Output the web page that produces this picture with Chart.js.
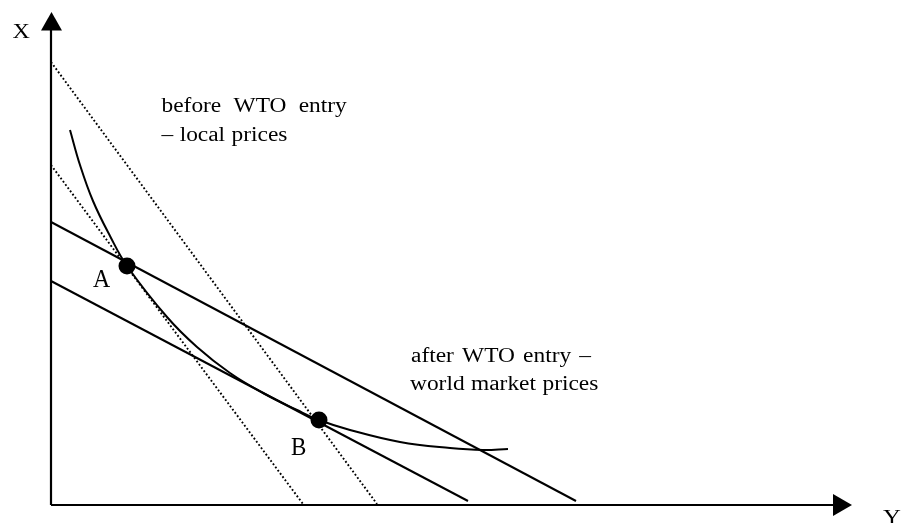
<!DOCTYPE html>
<html><head><meta charset="utf-8">
<script src="https://cdn.jsdelivr.net/npm/chart.js@4/dist/chart.umd.min.js"></script>
<style>html,body{margin:0;padding:0;background:#fff;overflow:hidden}</style>
</head><body>
<canvas id="c" width="901" height="523"></canvas>
<script>
// Indifference curve (Y on horizontal axis, X on vertical axis)
const curveX = [19, 29, 42, 59, 76, 116, 146, 179, 212, 246, 268, 299, 349, 399, 432, 457];
const curveY = [375, 340, 304, 269, 239, 188, 158, 132, 112, 95, 85, 75, 63, 57, 55, 56];
// Budget lines before WTO entry (local prices, dotted)
const localHighX = [0, 326], localHighY = [443, 1];
const localLowX = [0, 252], localLowY = [340, 1];
// Budget lines after WTO entry (world market prices, solid)
const worldHighX = [0, 525], worldHighY = [283, 4];
const worldLowX = [0, 417], worldLowY = [224, 4];
// Equilibrium points
const pointNames = ['A', 'B'];
const pointX = [76, 268], pointY = [239, 85];
// Axis names and notes
const axisNames = {vertical: 'X', horizontal: 'Y'};
const noteBefore = ['before WTO entry', '\u2013 local prices'];
const noteAfter = ['after WTO entry \u2013', 'world market prices'];

const toPts = (xs, ys) => xs.map((x, i) => ({x: x, y: ys[i]}));

const lineDs = (xs, ys, dashed) => ({
  data: toPts(xs, ys), showLine: true, borderColor: '#000',
  borderWidth: dashed ? 1.9 : 2, borderDash: dashed ? [1.8, 2.2] : [],
  pointRadius: 0, fill: false, tension: 0
});

function txt(ctx, s, px, py, size, sx, ws) {
  ctx.save();
  ctx.font = size + 'px "Liberation Serif", "Times New Roman", serif';
  ctx.fillStyle = '#000';
  ctx.textBaseline = 'alphabetic';
  if ('wordSpacing' in ctx) ctx.wordSpacing = (ws || 0) + 'px';
  ctx.translate(px, py);
  ctx.scale(sx, 1);
  ctx.fillText(s, 0, 0);
  ctx.restore();
}

const diagram = {
  id: 'diagram',
  beforeDatasetsDraw(chart) {
    const ctx = chart.ctx, xs = chart.scales.x, ys = chart.scales.y;
    const x0 = xs.getPixelForValue(0), y0 = ys.getPixelForValue(0);
    const yTop = ys.getPixelForValue(ys.max), xEnd = xs.getPixelForValue(xs.max);
    ctx.save();
    ctx.strokeStyle = '#000'; ctx.fillStyle = '#000'; ctx.lineWidth = 2.2;
    ctx.beginPath();
    ctx.moveTo(x0, y0); ctx.lineTo(x0, yTop + 15);
    ctx.moveTo(x0, y0); ctx.lineTo(xEnd - 15, y0);
    ctx.stroke();
    // arrowheads
    ctx.beginPath();
    ctx.moveTo(x0 + 0.5, yTop); ctx.lineTo(x0 + 11, yTop + 18.5); ctx.lineTo(x0 - 10, yTop + 18.5); ctx.closePath();
    ctx.fill();
    ctx.beginPath();
    ctx.moveTo(xEnd, y0); ctx.lineTo(xEnd - 19, y0 - 11); ctx.lineTo(xEnd - 19, y0 + 11); ctx.closePath();
    ctx.fill();
    ctx.restore();
  },
  afterDatasetsDraw(chart) {
    const ctx = chart.ctx, xs = chart.scales.x, ys = chart.scales.y;
    const P = (vx, vy) => [xs.getPixelForValue(vx), ys.getPixelForValue(vy)];
    let p;
    p = P(-38.5, 467); txt(ctx, axisNames.vertical, p[0], p[1], 21.5, 1.12, 0);
    p = P(832, -19); txt(ctx, axisNames.horizontal, p[0], p[1], 21.5, 1.15, 0);
    p = P(pointX[0] - 34, pointY[0] - 21); txt(ctx, pointNames[0], p[0], p[1], 24.5, 0.97, 0);
    p = P(pointX[1] - 28, pointY[1] - 35); txt(ctx, pointNames[1], p[0], p[1], 24.5, 0.94, 0);
    p = P(110.5, 393); txt(ctx, noteBefore[0], p[0], p[1], 20, 1.17, 5.5);
    p = P(110.5, 364); txt(ctx, noteBefore[1], p[0], p[1], 20, 1.17, 0.5);
    p = P(360, 143.5); txt(ctx, noteAfter[0], p[0], p[1], 20, 1.17, 2);
    p = P(359, 115); txt(ctx, noteAfter[1], p[0], p[1], 20, 1.17, 0.5);
  }
};

new Chart(document.getElementById('c'), {
  type: 'scatter',
  data: {
    datasets: [
      lineDs(localHighX, localHighY, true),
      lineDs(localLowX, localLowY, true),
      lineDs(worldHighX, worldHighY, false),
      lineDs(worldLowX, worldLowY, false),
      {
        data: toPts(curveX, curveY), showLine: true, borderColor: '#000', borderWidth: 2,
        pointRadius: 0, fill: false, tension: 0.4
      },
      {
        data: toPts(pointX, pointY), showLine: false, pointRadius: 8.5,
        pointBackgroundColor: '#000', pointBorderColor: '#000', pointBorderWidth: 0
      }
    ]
  },
  options: {
    responsive: false, animation: false, devicePixelRatio: 1,
    layout: {padding: {left: 51, right: 49, top: 12, bottom: 18}, autoPadding: false},
    plugins: {legend: {display: false}, tooltip: {enabled: false}},
    scales: {
      x: {type: 'linear', min: 0, max: 801, display: false},
      y: {type: 'linear', min: 0, max: 493, display: false}
    },
    clip: false
  },
  plugins: [diagram]
});
</script>
</body></html>
